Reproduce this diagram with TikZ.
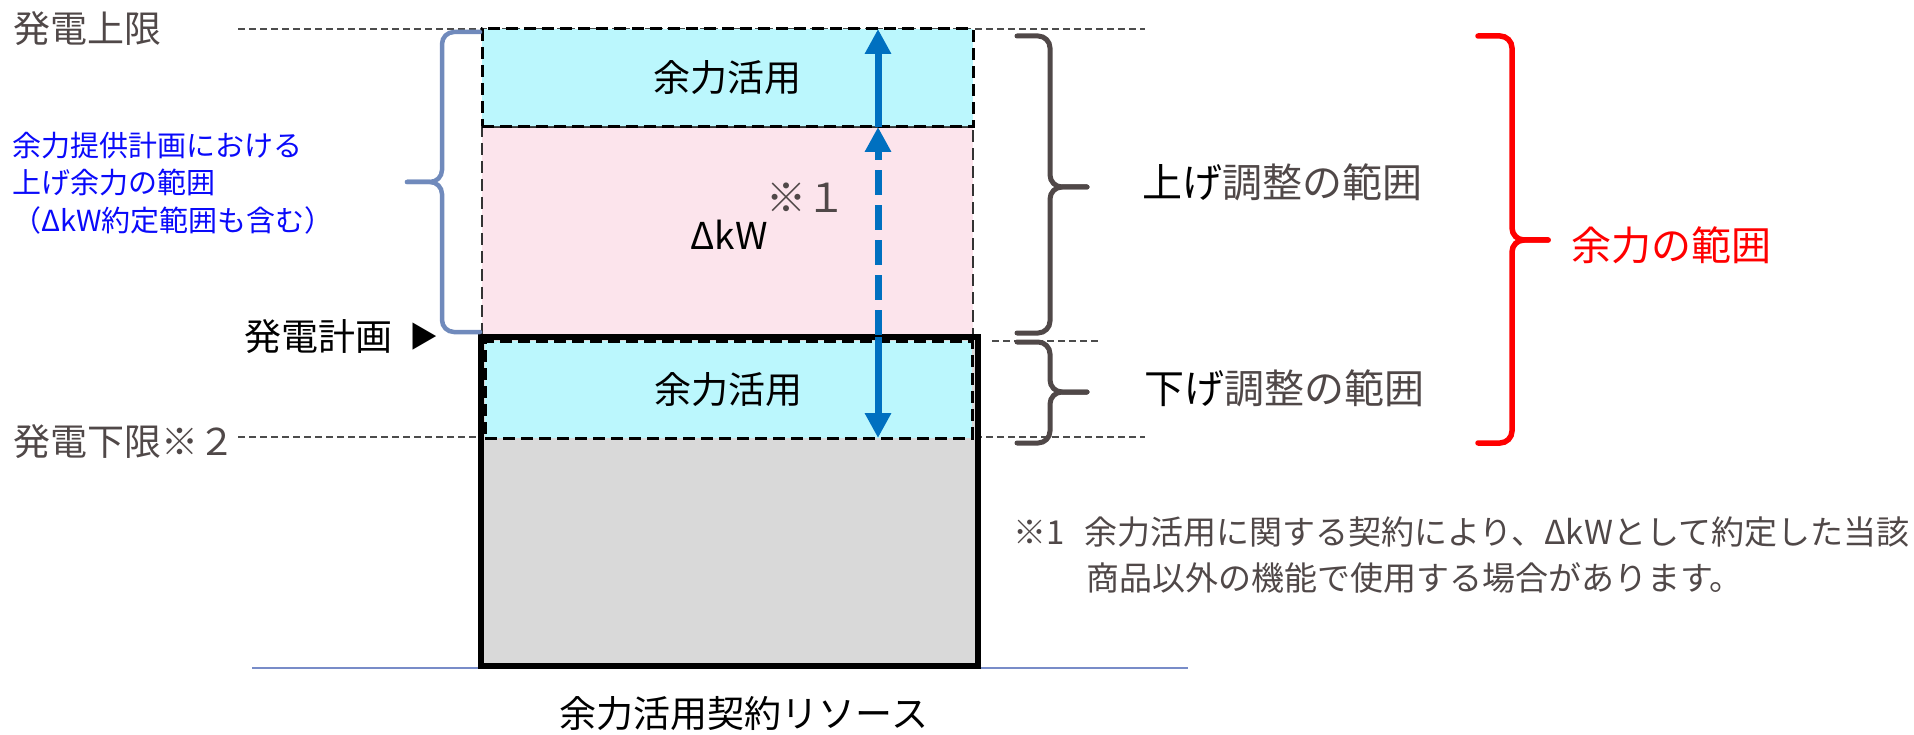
\documentclass[tikz,border=0pt]{standalone}
\usepackage{fontspec}
\setmainfont{Noto Sans CJK JP}
\usepackage{xcolor}
\usepackage{tikz}
\usetikzlibrary{arrows.meta,positioning}

\definecolor{txtgray}{RGB}{80,72,72}
\definecolor{cyanfill}{RGB}{187,247,253}
\definecolor{pinkfill}{RGB}{252,228,236}
\definecolor{resgray}{RGB}{217,217,217}
\definecolor{arrowblue}{RGB}{0,112,192}
\definecolor{bracesteel}{RGB}{112,138,188}
\definecolor{noteblue}{RGB}{10,10,250}
\definecolor{groundblue}{RGB}{120,140,200}

\begin{document}
\begin{tikzpicture}[
    x=1pt, y=-1pt,
    node distance=0pt,
    guide/.style={draw=black!70, line width=1.5pt, dash pattern=on 7pt off 4pt},
    groundline/.style={draw=groundblue, line width=2pt},
    cyanbox/.style={rectangle, draw=black, fill=cyanfill, line width=3pt, dash pattern=on 12pt off 6pt, inner sep=0pt, outer sep=0pt, font={\fontsize{37pt}{44pt}\selectfont}},
    pinkbox/.style={rectangle, draw=black!80, fill=pinkfill, line width=2.5pt, dash pattern=on 12pt off 6pt, inner sep=0pt, outer sep=0pt},
    resbox/.style={rectangle, draw=black, fill=resgray, line width=6pt, inner sep=0pt, outer sep=0pt},
    flowarrow/.style={-{Triangle[width=25pt, length=25pt]}, line width=7pt, draw=arrowblue},
    graybrace/.style={draw=txtgray, line width=5pt, rounded corners=12pt, line cap=round},
    bluebrace/.style={draw=bracesteel, line width=4.5pt, rounded corners=12pt, line cap=round},
    redbrace/.style={draw=red, line width=5.5pt, rounded corners=12pt, line cap=round},
    lbl/.style={inner sep=0pt, font={\fontsize{37pt}{44pt}\selectfont}},
    sidelbl/.style={inner sep=0pt, anchor=west, font={\fontsize{40pt}{48pt}\selectfont}},
    notelbl/.style={inner sep=0pt, anchor=west, text=txtgray, font={\fontsize{33pt}{40pt}\selectfont}}
]
    \useasboundingbox (0,0) rectangle (1914,735);

    % guide lines
    \draw [guide] (238,29) -- (1145,29);
    \draw [guide] (238,437) -- (1145,437);
    \draw [guide] (992,341) -- (1098,341);
    \draw [groundline] (252,668) -- (1188,668);

    % resource column
    \node [cyanbox, minimum width=491pt, minimum height=98pt] (topres) at (727.5,78) {余力活用};
    \node [pinkbox, minimum width=491pt, minimum height=208pt, below=of topres] (dkw) {};
    \draw [cyanbox] (topres.south west) -- (topres.south east);
    \node [resbox, minimum width=497pt, minimum height=329pt] (res) at (729.5,501.5) {};
    \node [cyanbox, minimum width=487pt, minimum height=97pt] (lowres) at (728.5,389.5) {余力活用};
    \node [lbl] (dkwlbl) at (729,235) {ΔkW};
    \node [lbl, text=txtgray, font={\fontsize{40pt}{48pt}\selectfont}] (mark1) at (806,198) {※１};

    % arrows
    \coordinate (ax) at (878,0);
    \draw [flowarrow] (topres.south -| ax) -- (topres.north -| ax);
    \draw [flowarrow, dash pattern=on 25pt off 10pt] (dkw.south -| ax) -- (dkw.north -| ax);
    \draw [flowarrow] (res.north -| ax) -- (lowres.south -| ax);

    % braces
    \draw [bluebrace] (480,32) -- (442,32) -- (442,182) -- (407,182);
    \draw [bluebrace] (407,182) -- (442,182) -- (442,332) -- (480,332);
    \draw [graybrace] (1017,36) -- (1050,36) -- (1050,187) -- (1087,187);
    \draw [graybrace] (1087,187) -- (1050,187) -- (1050,333) -- (1017,333);
    \draw [graybrace] (1017,342) -- (1050,342) -- (1050,392) -- (1087,392);
    \draw [graybrace] (1087,392) -- (1050,392) -- (1050,443) -- (1017,443);
    \draw [redbrace] (1478,36) -- (1512,36) -- (1512,240) -- (1548,240);
    \draw [redbrace] (1548,240) -- (1512,240) -- (1512,443) -- (1478,443);

    % left labels
    \node [lbl, anchor=west, text=txtgray] (uplim) at (13,29) {発電上限};
    \node [lbl, anchor=west, text=txtgray] (lowlim) at (13,442) {発電下限※２};
    \node [inner sep=0pt, anchor=west, align=left, text=noteblue, font={\fontsize{29pt}{37.5pt}\selectfont}] (provlbl) at (12,183) {余力提供計画における\\上げ余力の範囲\\（ΔkW約定範囲も含む）};
    \node [lbl, anchor=west] (planlbl) at (244,337) {発電計画\hspace{17pt}\raisebox{3pt}{\fontsize{29pt}{29pt}\selectfont ▶}};

    % right labels
    \node [sidelbl, text=txtgray] (upadj) at (1142,182) {{\color{black}上げ}調整の範囲};
    \node [sidelbl, text=txtgray] (downadj) at (1144,388) {{\color{black}下げ}調整の範囲};
    \node [sidelbl, text=red] (marginlbl) at (1571,245) {余力の範囲};

    % notes
    \node [notelbl] (note1) at (1013,532) {\makebox[71pt][l]{※1}余力活用に関する契約により、ΔkWとして約定した当該};
    \node [notelbl, below right=15pt and 73pt of note1.south west, anchor=north west] (note2) {商品以外の機能で使用する場合があります。};

    \node [lbl] (reslbl) at (744,714) {余力活用契約リソース};
\end{tikzpicture}
\end{document}
